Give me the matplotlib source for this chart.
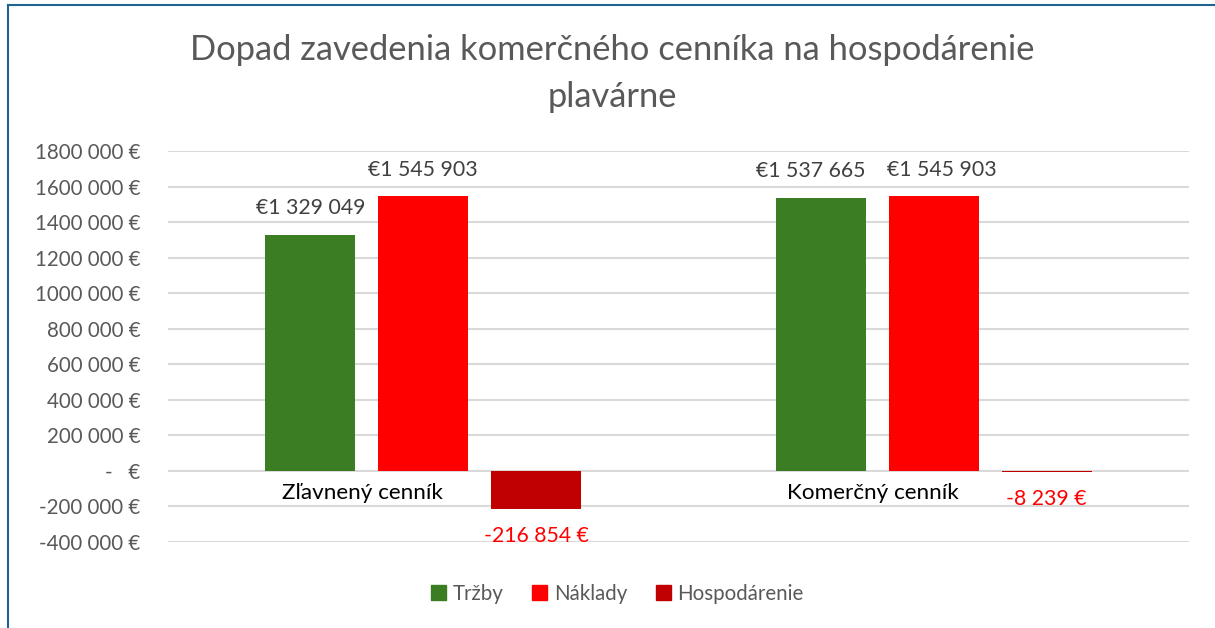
import numpy as np
import matplotlib.pyplot as plt
from matplotlib.lines import Line2D
from matplotlib.patches import Patch

categories = ['Zľavnený cenník', 'Komerčný cenník']
series = ['Tržby', 'Náklady', 'Hospodárenie']
trzby = [1329049, 1537665]
naklady = [1545903, 1545903]
hospodarenie = [-216854, -8239]
colors = ['#3A7D22', '#FF0000', '#C00000']

plt.rcParams['font.family'] = ['Lato', 'DejaVu Sans']

def money(v):
    s = f'{abs(v):,}'.replace(',', ' ')
    if v < 0:
        return f'-{s} €'
    return f'€{s}'

def tick_fmt(v, pos):
    if v == 0:
        return '-   €'
    s = f'{abs(int(v)):,}'.replace(',', ' ')
    # Excel style: "1800 000"
    if abs(v) >= 1000000:
        s = s.replace(' ', '', 1)
    return ('-' if v < 0 else '') + s + ' €'

fig = plt.figure(figsize=(12.15, 6.28), dpi=100)
ax = fig.add_axes([168/1215, 1-542/628, (1189-168)/1215, (542-151)/628])

x = np.arange(len(categories))
w = 90/510.5
step = 113/510.5
data = [trzby, naklady, hospodarenie]
# nudge labels apart where they would touch (points), per series/category
nudge = [[0, -7], [0, 6], [0, 0]]
for i, (name, vals) in enumerate(zip(series, data)):
    pos = x + (i-1)*step
    ax.bar(pos, vals, w, color=colors[i], label=name, zorder=3)
    for j, (xp, v) in enumerate(zip(pos, vals)):
        dx = nudge[i][j]
        if v >= 0:
            ax.annotate(money(v), (xp, v), xytext=(dx, 19), textcoords='offset points',
                        ha='center', va='center', fontsize=15.3, color='#404040')
        else:
            ax.annotate(money(v), (xp, v), xytext=(dx, -19), textcoords='offset points',
                        ha='center', va='center', fontsize=15.3, color='#FF0000')

for xc, c in zip(x, categories):
    ax.annotate(c, (xc - 0.12, 0), xytext=(0, -16), textcoords='offset points',
                ha='center', va='center', fontsize=16.2, color='black')

ax.set_xlim(-0.5, 1.5)
ax.set_ylim(-400000, 1800000)
ax.set_yticks(np.arange(-400000, 1800001, 200000))
ax.yaxis.set_major_formatter(plt.FuncFormatter(tick_fmt))
ax.set_xticks([])
ax.tick_params(axis='y', length=0, labelsize=14.8, labelcolor='#595959', pad=20)
ax.grid(axis='y', color='#D9D9D9', linewidth=1.5, zorder=0)
for s in ax.spines.values():
    s.set_visible(False)

fig.text(0.504, 1-50/628, 'Dopad zavedenia komerčného cenníka na hospodárenie',
         ha='center', va='center', fontsize=24.8, color='#595959')
fig.text(0.504, 1-97/628, 'plavárne', ha='center', va='center', fontsize=24.8, color='#595959')

handles = [Patch(color=c) for c in colors]
fig.legend(handles, series, loc='center', bbox_to_anchor=(0.508, 1-594/628), ncol=3,
           frameon=False, fontsize=14.8, labelcolor='#595959', handlelength=0.75,
           handleheight=0.75, handletextpad=0.3, columnspacing=1.4)

fig.add_artist(Line2D([8/1215, 1], [1-5/628, 1-5/628], color='#1F6391', linewidth=1.5))
fig.add_artist(Line2D([8/1215, 8/1215], [0, 1-5/628], color='#1F6391', linewidth=1.5))

fig.savefig('out.png', dpi=100)
